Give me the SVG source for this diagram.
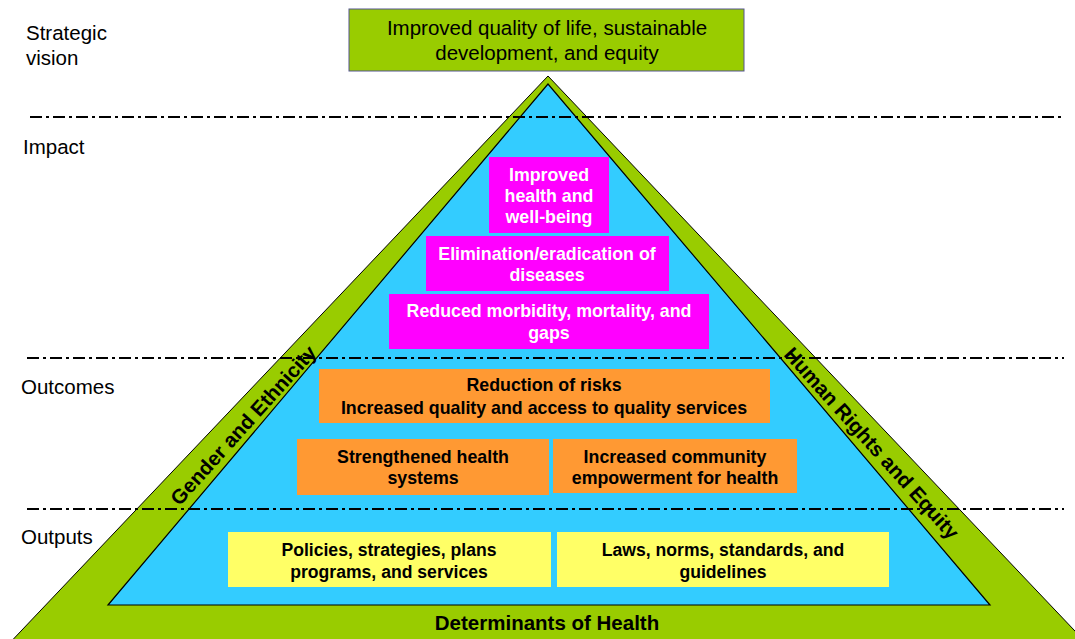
<svg xmlns="http://www.w3.org/2000/svg" width="1075" height="639" viewBox="0 0 1075 639">
<style>
.lbl{font-family:"Liberation Sans",Arial,sans-serif;font-size:20.5px;fill:#000}
.dash{stroke:#000;stroke-width:2.2;stroke-dasharray:12 4 3 4;fill:none}
.box{stroke:none}
.mg{fill:#FF00FF}
.or{fill:#FF9933}
.ye{fill:#FFFF66}
.wt{font-family:"Liberation Sans",Arial,sans-serif;font-size:17.8px;font-weight:bold;fill:#fff;text-anchor:middle}
.bt{font-family:"Liberation Sans",Arial,sans-serif;font-size:17.8px;font-weight:bold;fill:#000;text-anchor:middle}
.yt{font-family:"Liberation Sans",Arial,sans-serif;font-size:17.6px;font-weight:bold;fill:#000;text-anchor:middle}
.band{font-family:"Liberation Sans",Arial,sans-serif;font-size:20.5px;font-weight:bold;fill:#000;text-anchor:middle;dominant-baseline:central}
</style>
<rect width="1075" height="639" fill="#fff"/>
<g id="pyramid">
<polygon points="548,76 3,650 1093,650" fill="#99CC00" stroke="#000" stroke-width="1"/>
<polygon points="548,84 108,605 990,605" fill="#33CCFF" stroke="#000" stroke-width="1.2"/>
<text class="band" x="243" y="425" transform="rotate(-48 243 425)">Gender and Ethnicity</text>
<text class="band" x="872" y="443" transform="rotate(48 872 443)">Human Rights and Equity</text>
<text class="band" x="547" y="622">Determinants of Health</text>
</g>
<g id="levels">
<text class="lbl" x="26" y="40">Strategic</text>
<text class="lbl" x="26" y="65">vision</text>
<text class="lbl" x="23" y="154">Impact</text>
<text class="lbl" x="21" y="394">Outcomes</text>
<text class="lbl" x="21" y="544">Outputs</text>
</g>
<g id="connectors">
<line class="dash" x1="30" y1="117" x2="1064" y2="117"/>
<line class="dash" x1="27" y1="358" x2="1064" y2="358"/>
<line class="dash" x1="27" y1="509" x2="1064" y2="509"/>
</g>
<g id="vision">
<rect x="349" y="9" width="395" height="62" fill="#99CC00" stroke="#55558F" stroke-width="1"/>
<text class="lbl" x="547" y="35" text-anchor="middle">Improved quality of life, sustainable</text>
<text class="lbl" x="547" y="60" text-anchor="middle">development, and equity</text>
</g>
<g id="impact1">
<rect class="box mg" x="489" y="157" width="120" height="76"/>
<text class="wt" x="549" y="180.5">Improved</text>
<text class="wt" x="549" y="201.5">health and</text>
<text class="wt" x="549" y="222.5">well-being</text>
</g>
<g id="impact2">
<rect class="box mg" x="426" y="236" width="243" height="55"/>
<text class="wt" x="547" y="259.5">Elimination/eradication of</text>
<text class="wt" x="547" y="281">diseases</text>
</g>
<g id="impact3">
<rect class="box mg" x="389" y="294" width="320" height="55"/>
<text class="wt" x="549" y="317">Reduced morbidity, mortality, and</text>
<text class="wt" x="549" y="338.5">gaps</text>
</g>
<g id="outcome1">
<rect class="box or" x="319" y="369" width="451" height="54"/>
<text class="bt" x="544" y="391">Reduction of risks</text>
<text class="bt" x="544" y="414">Increased quality and access to quality services</text>
</g>
<g id="outcome2">
<rect class="box or" x="297" y="439" width="252" height="56"/>
<text class="bt" x="423" y="463">Strengthened health</text>
<text class="bt" x="423" y="484">systems</text>
</g>
<g id="outcome3">
<rect class="box or" x="553" y="439" width="244" height="54"/>
<text class="bt" x="675" y="463">Increased community</text>
<text class="bt" x="675" y="484">empowerment for health</text>
</g>
<g id="output1">
<rect class="box ye" x="228" y="532" width="323" height="55"/>
<text class="yt" x="389" y="555.5">Policies, strategies, plans</text>
<text class="yt" x="389" y="577.5">programs, and services</text>
</g>
<g id="output2">
<rect class="box ye" x="557" y="532" width="332" height="55"/>
<text class="yt" x="723" y="555.5">Laws, norms, standards, and</text>
<text class="yt" x="723" y="577.5">guidelines</text>
</g>
</svg>
